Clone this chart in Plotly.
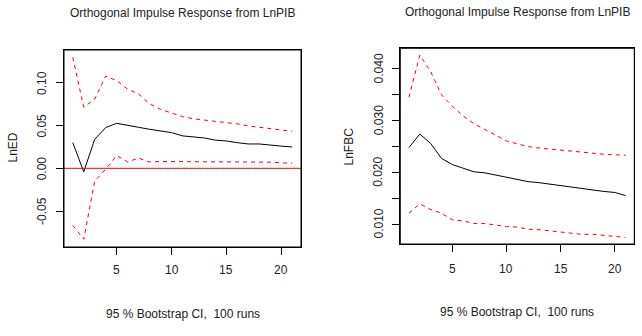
import plotly.graph_objects as go

steps = list(range(1, 22))

# Left panel: response of LnED
ed_irf = [0.030, -0.004, 0.034, 0.0477, 0.0527, 0.050, 0.048, 0.0457, 0.0437, 0.0418, 0.038,
          0.037, 0.0355, 0.033, 0.032, 0.030, 0.0285, 0.0285, 0.027, 0.026, 0.025]
ed_upper = [0.130, 0.0715, 0.081, 0.108, 0.1027, 0.0926, 0.087, 0.0754, 0.069, 0.065, 0.0605,
            0.058, 0.0566, 0.055, 0.0535, 0.052, 0.0496, 0.048, 0.046, 0.0445, 0.0434]
ed_lower = [-0.0668, -0.083, -0.015, -0.001, 0.015, 0.0074, 0.012, 0.0074, 0.008, 0.008, 0.008,
            0.008, 0.008, 0.0075, 0.0075, 0.0075, 0.0075, 0.0075, 0.0072, 0.0065, 0.006]

# Right panel: response of LnFBC
fbc_irf = [0.0248, 0.0274, 0.0256, 0.0227, 0.0215, 0.0208, 0.0201, 0.0199, 0.0195, 0.0190, 0.0186,
           0.0182, 0.0180, 0.0177, 0.0174, 0.0171, 0.0168, 0.0166, 0.0163, 0.0161, 0.0155]
fbc_upper = [0.0345, 0.0427, 0.0395, 0.0350, 0.0328, 0.0309, 0.0294, 0.0283, 0.0272, 0.0261, 0.0255,
             0.0250, 0.0247, 0.0245, 0.0242, 0.0240, 0.0239, 0.0237, 0.0235, 0.0234, 0.0233]
fbc_lower = [0.0121, 0.0139, 0.0128, 0.0121, 0.0108, 0.0106, 0.0101, 0.0101, 0.0098, 0.0095, 0.0094,
             0.0090, 0.0089, 0.0087, 0.0084, 0.0082, 0.0080, 0.0080, 0.0078, 0.0077, 0.0074]

ed_ticks = [-0.05, 0.00, 0.05, 0.10]
ed_ticktext = ["-0.05", "0.00", "0.05", "0.10"]
fbc_ticks = [0.010, 0.015, 0.020, 0.025, 0.030, 0.035, 0.040]
fbc_ticktext = ["0.010", "", "0.020", "", "0.030", "", "0.040"]
x_ticks = [5, 10, 15, 20]
x_ticktext = ["5", "10", "15", "20"]

title_text = "Orthogonal Impulse Response from LnPIB"
xlab_text = "95 % Bootstrap CI,  100 runs"

FONT = "Liberation Sans, Arial, sans-serif"
TXT = "#222222"
W, H = 642, 336

fig = go.Figure()

def add_panel(xa, ya, irf, up, lo):
    fig.add_trace(go.Scatter(x=steps, y=irf, mode="lines", line=dict(color="black", width=1),
                             xaxis=xa, yaxis=ya, showlegend=False, hoverinfo="skip"))
    for s in (up, lo):
        fig.add_trace(go.Scatter(x=steps, y=s, mode="lines",
                                 line=dict(color="red", width=1, dash="4px,4px"),
                                 xaxis=xa, yaxis=ya, showlegend=False, hoverinfo="skip"))

add_panel("x", "y", ed_irf, ed_upper, ed_lower)
add_panel("x2", "y2", fbc_irf, fbc_upper, fbc_lower)

# zero line (abline h=0) on left panel
fig.add_shape(type="line", xref="x domain", yref="y", x0=0, x1=1, y0=0, y1=0,
              line=dict(color="red", width=1))

# plot boxes
for xr, yr in (("x", "y"), ("x2", "y2")):
    fig.add_shape(type="rect", xref=xr + " domain", yref=yr + " domain", x0=0, x1=1, y0=0, y1=1,
                  line=dict(color="black", width=1), fillcolor="rgba(0,0,0,0)", layer="above")

def px_x(p):
    return p / W

def px_y(p):
    return 1 - p / H

axis_common = dict(showline=True, mirror=True, linecolor="black", linewidth=1,
                   ticks="outside", ticklen=7, tickcolor="black", tickwidth=1,
                   showgrid=False, zeroline=False, showticklabels=False)

fig.update_layout(
    width=W, height=H, margin=dict(l=0, r=0, t=0, b=0),
    paper_bgcolor="white", plot_bgcolor="white",
    xaxis=dict(domain=[px_x(64), px_x(301)], range=[0.2, 21.8], tickvals=x_ticks,
               anchor="y", **axis_common),
    yaxis=dict(domain=[px_y(247), px_y(50)], range=[-0.0921, 0.1385], tickvals=ed_ticks,
               anchor="x", **axis_common),
    xaxis2=dict(domain=[px_x(400.3), px_x(634.3)], range=[0.2, 21.8], tickvals=x_ticks,
                anchor="y2", **axis_common),
    yaxis2=dict(domain=[px_y(244), px_y(48.3)], range=[0.00613, 0.0440], tickvals=fbc_ticks,
                anchor="x2", **axis_common),
)

def ann(text, x, y, size, angle=0, xref="paper", yref="paper"):
    fig.add_annotation(text=text, x=x, y=y, xref=xref, yref=yref,
                       showarrow=False, textangle=angle, xanchor="center", yanchor="middle",
                       font=dict(family=FONT, size=size, color=TXT))

# tick labels placed at the axis scale positions
for v, t in zip(x_ticks, x_ticktext):
    ann(t, v, px_y(270), 12, xref="x")
    ann(t, v, px_y(268.5), 12, xref="x2")
for v, t in zip(ed_ticks, ed_ticktext):
    ann(t, px_x(42), v, 12, angle=-90, yref="y")
for v, t in zip(fbc_ticks, fbc_ticktext):
    if t:
        ann(t, px_x(378.5), v, 12, angle=-90, yref="y2")

ann(title_text, px_x(182.5), px_y(13), 12)
ann(title_text, px_x(517), px_y(12), 12)
ann(xlab_text, px_x(182.5), px_y(314), 12)
ann(xlab_text, px_x(517), px_y(312), 12)
ann("LnED", px_x(12.5), px_y(148), 12, -90)
ann("LnFBC", px_x(348.5), px_y(147), 12, -90)

fig.write_html("out.html", config={"displayModeBar": False},
               post_script="document.body.style.margin='0';document.body.style.overflow='hidden';")
